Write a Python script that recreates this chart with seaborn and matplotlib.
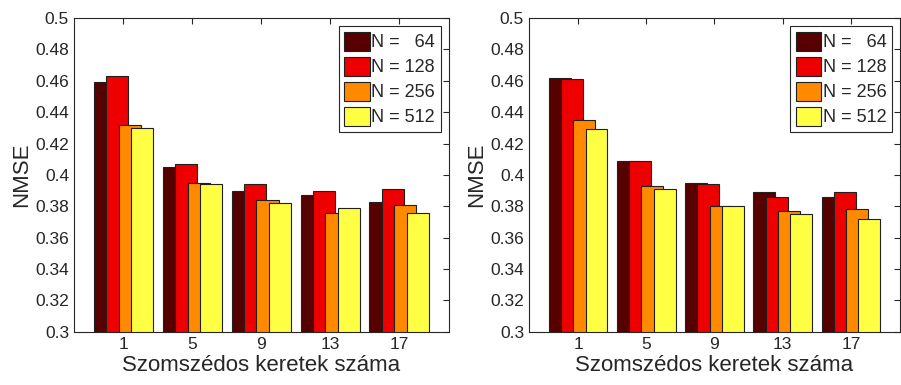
import matplotlib
matplotlib.use("Agg")
import matplotlib.pyplot as plt
import seaborn as sns
import pandas as pd
import numpy as np

# =========================
# DATA
# =========================

frames = [1, 5, 9, 13, 17]
n_labels = ["N =   64", "N = 128", "N = 256", "N = 512"]

left_n64 = [0.459, 0.405, 0.390, 0.387, 0.383]
left_n128 = [0.463, 0.407, 0.394, 0.390, 0.391]
left_n256 = [0.432, 0.395, 0.384, 0.376, 0.381]
left_n512 = [0.430, 0.394, 0.382, 0.379, 0.376]

right_n64 = [0.462, 0.409, 0.395, 0.389, 0.386]
right_n128 = [0.461, 0.409, 0.394, 0.386, 0.389]
right_n256 = [0.435, 0.393, 0.380, 0.377, 0.378]
right_n512 = [0.429, 0.391, 0.380, 0.375, 0.372]

colors = ["#560000", "#EE0000", "#FF8A00", "#FFFF44"]
yticks = [0.3, 0.32, 0.34, 0.36, 0.38, 0.4, 0.42, 0.44, 0.46, 0.48, 0.5]


def make_df(series):
    rows = []
    for lab, vals in zip(n_labels, series):
        for f, v in zip(frames, vals):
            rows.append({"frames": str(f), "N": lab, "nmse": v})
    return pd.DataFrame(rows)


sns.set_style("white")
plt.rcParams["font.family"] = ["Liberation Sans", "DejaVu Sans"]

fig = plt.figure(figsize=(9.01, 3.85), dpi=100)
ax1 = fig.add_axes([0.082, 0.138, 0.416, 0.815])
ax2 = fig.add_axes([0.587, 0.138, 0.412, 0.815])

panels = [
    (ax1, [left_n64, left_n128, left_n256, left_n512]),
    (ax2, [right_n64, right_n128, right_n256, right_n512]),
]

for ax, series in panels:
    df = make_df(series)
    sns.barplot(
        data=df, x="frames", y="nmse", hue="N",
        palette=colors, saturation=1, width=0.72, dodge=True,
        edgecolor="#202020", linewidth=0.8, ax=ax,
    )
    # MATLAB style: bars wider than their spacing, overlapping
    for p in ax.patches:
        if p.get_height() > 0:
            c = p.get_x() + p.get_width() / 2
            p.set_width(0.32)
            p.set_x(c - 0.16)

    ax.set_ylim(0.3, 0.5)
    ax.set_xlim(-0.72, 4.72)
    ax.set_yticks(yticks)
    ax.set_yticklabels([f"{t:g}" for t in yticks])
    ax.set_xlabel("Szomszédos keretek száma", fontsize=16, color="#262626", labelpad=2)
    ax.set_ylabel("NMSE", fontsize=16, color="#262626", labelpad=2)
    ax.tick_params(axis="both", direction="in", length=4, labelsize=12.5,
                   colors="#262626", top=True, right=True, labelcolor="#262626")
    for s in ax.spines.values():
        s.set_visible(True)
        s.set_color("#262626")
        s.set_linewidth(0.8)

    leg = ax.legend(loc="upper right", fontsize=13, frameon=True, fancybox=False,
                    edgecolor="#262626", framealpha=1, handlelength=1.4,
                    handleheight=1.25, handletextpad=0.1, labelspacing=0.3,
                    borderpad=0.3, borderaxespad=0.45)
    leg.get_frame().set_linewidth(0.8)

fig.savefig("out.png", dpi=100)
